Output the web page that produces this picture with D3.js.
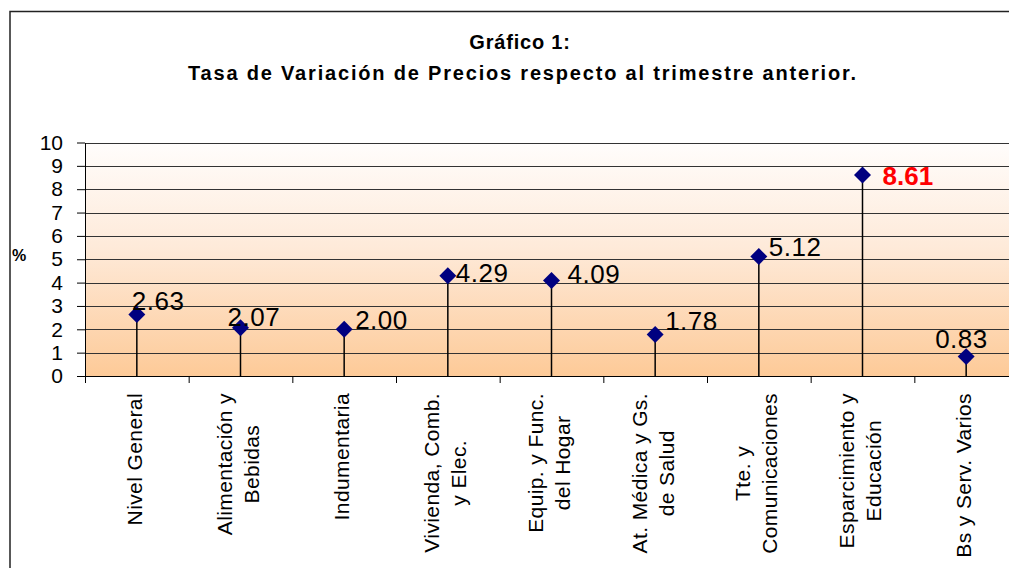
<!DOCTYPE html>
<html>
<head>
<meta charset="utf-8">
<script src="https://cdn.jsdelivr.net/npm/d3@7"></script>
<style>
  body { margin: 0; background: #fff; }
  svg { display: block; font-family: Arial, "Liberation Sans", sans-serif; }
</style>
</head>
<body>
<div id="chart"></div>
<script>
// Data
const categories = [
  ["Nivel General"],
  ["Alimentación y", "Bebidas"],
  ["Indumentaria"],
  ["Vivienda, Comb.", "y Elec."],
  ["Equip. y Func.", "del Hogar"],
  ["At. Médica y Gs.", "de Salud"],
  ["Tte. y", "Comunicaciones"],
  ["Esparcimiento y", "Educación"],
  ["Bs y Serv. Varios"]
];
const values = [2.63, 2.07, 2.00, 4.29, 4.09, 1.78, 5.12, 8.61, 0.83];
const yTicks = [0, 1, 2, 3, 4, 5, 6, 7, 8, 9, 10];
const highlightIndex = 7;

// label offsets from the marker (dx, dy), as placed in the original
const labelOffsets = [[-5, -5], [-13, -2], [11, 0], [8, 6], [16, 3], [10, -4], [10, 0], [20, 10], [-31, -9]];

/*******************************/
/*    Declare the constants    */
/*******************************/
const width = 1009;
const height = 568;
const plot = {left: 85, right: 1018, top: 142.5, bottom: 376};

const svg = d3.select("#chart")
  .append("svg")
    .attr("width", width)
    .attr("height", height);

// Background gradient
const defs = svg.append("defs");
const grad = defs.append("linearGradient")
    .attr("id", "bg")
    .attr("x1", 0).attr("y1", 0).attr("x2", 0).attr("y2", 1);
grad.append("stop").attr("offset", "0%").attr("stop-color", "#fffdfc");
grad.append("stop").attr("offset", "45%").attr("stop-color", "#feead9");
grad.append("stop").attr("offset", "100%").attr("stop-color", "#fdca98");

// Chart border
svg.append("path")
    .attr("d", `M10,${height} L10,11.5 L${width + 2},11.5`)
    .attr("fill", "none")
    .attr("stroke", "#222")
    .attr("stroke-width", 1.5);

// Title
svg.append("text")
    .attr("x", 520).attr("y", 49)
    .attr("text-anchor", "middle")
    .attr("font-size", 20)
    .attr("font-weight", "bold")
    .attr("letter-spacing", 0.8)
    .text("Gráfico 1:");
svg.append("text")
    .attr("x", 188).attr("y", 80)
    .attr("font-size", 20)
    .attr("font-weight", "bold")
    .attr("textLength", 668)
    .attr("lengthAdjust", "spacing")
    .text("Tasa de Variación de Precios respecto al trimestre anterior.");

/****************************/
/*    Declare the scales    */
/****************************/
const xScale = d3.scaleBand()
  .domain(d3.range(categories.length))
  .range([plot.left, plot.right]);

const yScale = d3.scaleLinear()
  .domain([0, 10])
  .range([plot.bottom, plot.top]);

// Plot area
svg.append("rect")
    .attr("x", plot.left)
    .attr("y", plot.top)
    .attr("width", plot.right - plot.left)
    .attr("height", plot.bottom - plot.top)
    .attr("fill", "url(#bg)");

// Gridlines
svg.append("g")
  .selectAll("line")
  .data(yTicks.filter(d => d > 0))
  .join("line")
    .attr("x1", plot.left)
    .attr("x2", plot.right)
    .attr("y1", d => Math.round(yScale(d)) + 0.5)
    .attr("y2", d => Math.round(yScale(d)) + 0.5)
    .attr("stroke", "#333")
    .attr("stroke-width", 1);

/**************************/
/*      Add the axes      */
/**************************/
const leftAxis = d3.axisLeft(yScale)
  .tickValues(yTicks)
  .tickSize(8)
  .tickPadding(14)
  .tickSizeOuter(0);
const gy = svg.append("g")
    .attr("transform", `translate(${plot.left}, 0)`)
    .call(leftAxis);
gy.selectAll("text")
    .attr("font-size", 21)
    .attr("font-family", "Arial, 'Liberation Sans', sans-serif")
    .attr("fill", "#000");
gy.selectAll("line, path").attr("stroke", "#000");

const bottomAxis = d3.axisBottom(d3.scaleLinear().domain([0, categories.length]).range([plot.left, plot.right]))
  .tickValues(d3.range(categories.length + 1))
  .tickSize(7)
  .tickSizeOuter(0)
  .tickFormat("");
const gx = svg.append("g")
    .attr("transform", `translate(0, ${plot.bottom})`)
    .call(bottomAxis);
gx.selectAll("line, path").attr("stroke", "#000");

svg.append("text")
    .attr("x", 12).attr("y", 261)
    .attr("font-size", 16)
    .attr("font-weight", "bold")
    .text("%");

// Category labels (rotated)
const labelGroups = svg.append("g")
  .selectAll("g")
  .data(categories)
  .join("g");
const lineHeight = 27;
labelGroups.each(function(lines, i) {
  const g = d3.select(this);
  const cx = xScale(i) + xScale.bandwidth() / 2 - 2;
  const texts = lines.map(l => g.append("text")
      .attr("font-size", 21)
      .attr("letter-spacing", 0.4)
      .attr("text-anchor", "middle")
      .text(l));
  const maxLen = d3.max(texts, t => t.node().getComputedTextLength());
  const cy = plot.bottom + 17 + maxLen / 2;
  texts.forEach((t, k) => {
    const x = cx + (k - (lines.length - 1) / 2) * lineHeight + 7;
    t.attr("transform", `translate(${x}, ${cy}) rotate(-90)`);
  });
});

/******************************/
/*      Add the points        */
/******************************/
const xPos = i => xScale(i) + xScale.bandwidth() / 2;

svg.append("g")
  .selectAll("line")
  .data(values)
  .join("line")
    .attr("x1", (d, i) => xPos(i))
    .attr("x2", (d, i) => xPos(i))
    .attr("y1", d => yScale(d))
    .attr("y2", plot.bottom)
    .attr("stroke", "#000")
    .attr("stroke-width", 1.5);

svg.append("g")
  .selectAll("path")
  .data(values)
  .join("path")
    .attr("d", d3.symbol(d3.symbolSquare, 144))
    .attr("transform", (d, i) => `translate(${xPos(i)}, ${yScale(d)}) rotate(45)`)
    .attr("fill", "#000080");

svg.append("g")
  .selectAll("text")
  .data(values)
  .join("text")
    .attr("x", (d, i) => xPos(i) + labelOffsets[i][0])
    .attr("y", (d, i) => yScale(d) + labelOffsets[i][1])
    .attr("font-size", 26)
    .attr("letter-spacing", (d, i) => i === highlightIndex ? 0 : 0.5)
    .attr("font-weight", (d, i) => i === highlightIndex ? "bold" : "normal")
    .attr("fill", (d, i) => i === highlightIndex ? "#ff0000" : "#000")
    .text(d => d.toFixed(2));
</script>
</body>
</html>
